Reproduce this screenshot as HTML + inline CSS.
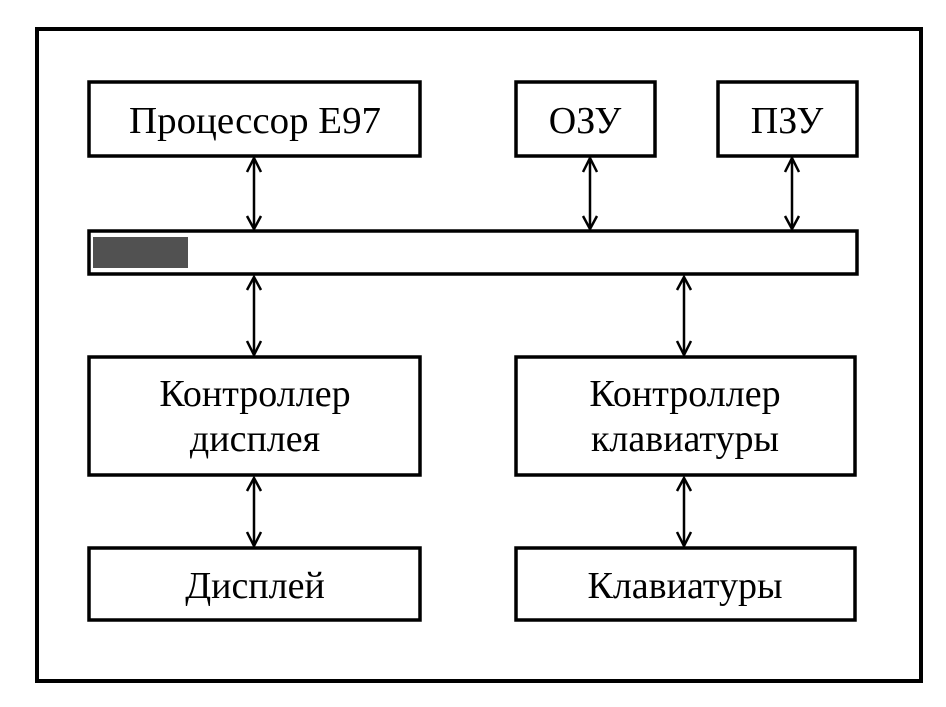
<!DOCTYPE html>
<html><head><meta charset="utf-8"><style>
html,body{margin:0;padding:0;background:#fff}
</style></head><body>
<svg width="946" height="702" viewBox="0 0 946 702" xmlns="http://www.w3.org/2000/svg" font-family="'Liberation Serif', serif" font-size="38" fill="none" stroke="#000">
<rect x="37" y="29" width="884" height="652" stroke-width="4"/>
<g stroke-width="3.5">
<rect x="89" y="82" width="331" height="74"/>
<rect x="516" y="82" width="139" height="74"/>
<rect x="718" y="82" width="139" height="74"/>
<rect x="89" y="231" width="768" height="43"/>
<rect x="89" y="357" width="331" height="118"/>
<rect x="516" y="357" width="339" height="118"/>
<rect x="89" y="548" width="331" height="72"/>
<rect x="516" y="548" width="339" height="72"/>
</g>
<rect x="93" y="237" width="95" height="31" fill="#333" stroke="none" opacity="0.85"/>
<g stroke-width="2.5">
<line x1="254" y1="160" x2="254" y2="228"/><path d="M247 172 L254 158 L261 172 M247 216 L254 229 L261 216"/>
<line x1="590" y1="160" x2="590" y2="228"/><path d="M583 172 L590 158 L597 172 M583 216 L590 229 L597 216"/>
<line x1="792" y1="160" x2="792" y2="228"/><path d="M785 172 L792 158 L799 172 M785 216 L792 229 L799 216"/>
<line x1="254" y1="277" x2="254" y2="354"/><path d="M247 290 L254 277 L261 290 M247 341 L254 355 L261 341"/>
<line x1="684" y1="277" x2="684" y2="354"/><path d="M677 290 L684 277 L691 290 M677 341 L684 355 L691 341"/>
<line x1="254" y1="478" x2="254" y2="545"/><path d="M247 491 L254 478 L261 491 M247 532 L254 546 L261 532"/>
<line x1="684" y1="478" x2="684" y2="545"/><path d="M677 491 L684 478 L691 491 M677 532 L684 546 L691 532"/>
</g>
<g fill="#000" stroke="none" text-anchor="middle">
<text x="255" y="133" textLength="252" lengthAdjust="spacingAndGlyphs">Процессор Е97</text>
<text x="585" y="133">ОЗУ</text>
<text x="787" y="133">ПЗУ</text>
<text x="255" y="406">Контроллер</text>
<text x="255" y="451">дисплея</text>
<text x="685" y="406">Контроллер</text>
<text x="685" y="451">клавиатуры</text>
<text x="255" y="598">Дисплей</text>
<text x="685" y="598">Клавиатуры</text>
</g>
</svg>
</body></html>
